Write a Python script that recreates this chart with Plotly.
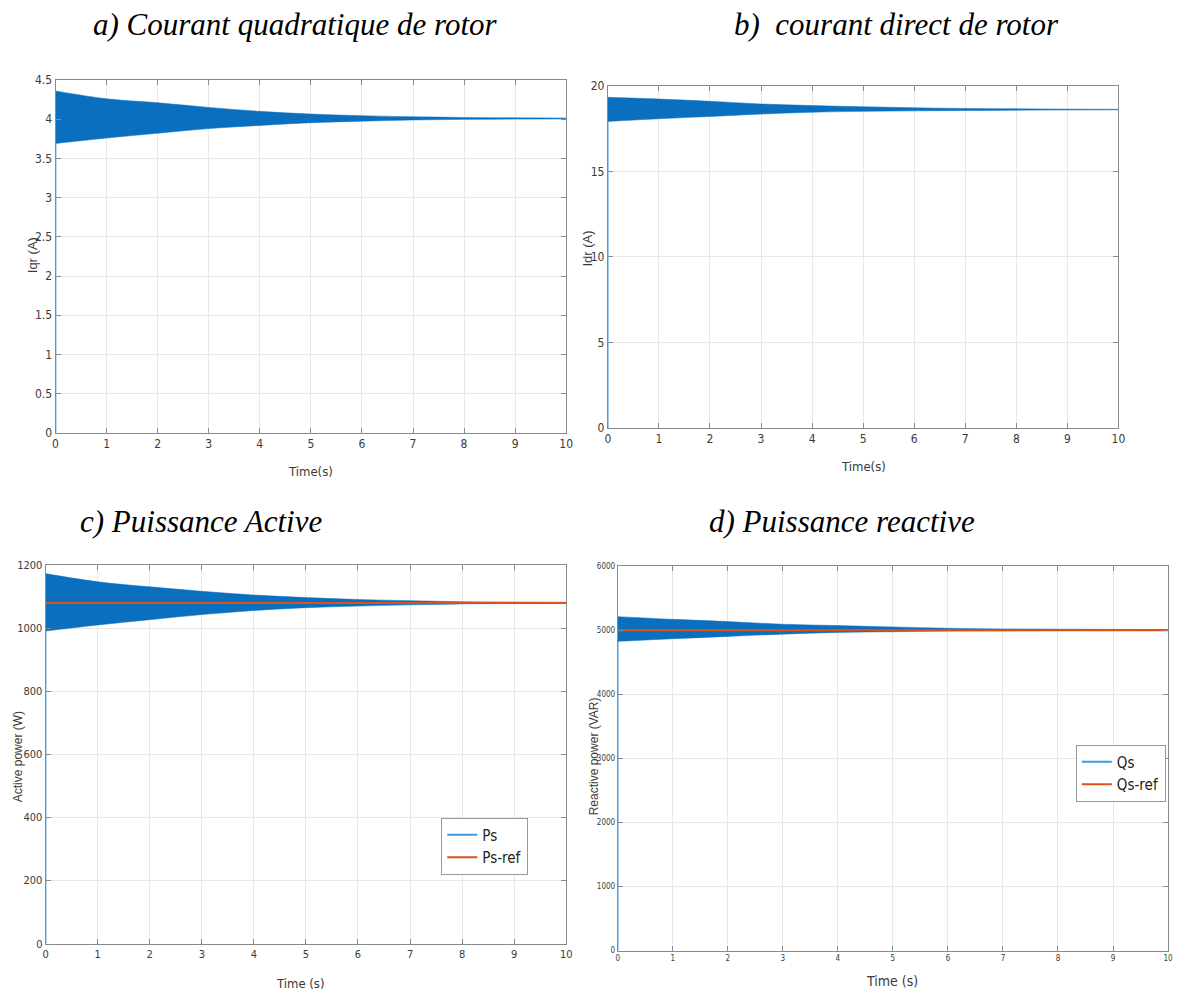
import plotly.graph_objects as go

W, H = 1181, 1001

# ---------------- data ----------------
time_s = [0, 1, 2, 3, 4, 5, 6, 7, 8, 9, 10]

iqr_upper = [4.36, 4.26, 4.21, 4.15, 4.10, 4.065, 4.045, 4.03, 4.022, 4.017, 4.015]
iqr_lower = [3.69, 3.76, 3.82, 3.88, 3.92, 3.955, 3.975, 3.99, 3.998, 4.003, 4.006]

idr_upper = [19.33, 19.23, 19.10, 18.94, 18.85, 18.78, 18.72, 18.68, 18.66, 18.64, 18.63]
idr_lower = [17.92, 18.08, 18.21, 18.35, 18.46, 18.51, 18.54, 18.56, 18.58, 18.59, 18.60]

ps_upper = [1173, 1147, 1131, 1117, 1105, 1097, 1091, 1087, 1084, 1083, 1082]
ps_lower = [991, 1010, 1027, 1043, 1056, 1065, 1070, 1074, 1077, 1078, 1079]
ps_ref_t = [0, 10]
ps_ref = [1080, 1080]

qs_upper = [5211, 5169, 5134, 5092, 5072, 5050, 5030, 5020, 5015, 5012, 5010]
qs_lower = [4826, 4866, 4903, 4938, 4965, 4975, 4985, 4990, 4995, 4998, 5000]
qs_ref_t = [0, 10]
qs_ref = [5000, 5000]

start_value = 0

x_ticks = list(range(0, 11))
iqr_ticks = [0, 0.5, 1, 1.5, 2, 2.5, 3, 3.5, 4, 4.5]
idr_ticks = [0, 5, 10, 15, 20]
ps_ticks = [0, 200, 400, 600, 800, 1000, 1200]
qs_ticks = [0, 1000, 2000, 3000, 4000, 5000, 6000]

titles = ["a) Courant quadratique de rotor", "b)  courant direct de rotor",
          "c) Puissance Active", "d) Puissance reactive"]
xlabels = ["Time(s)", "Time(s)", "Time (s)", "Time (s)"]
ylabels = ["Iqr (A)", "Idr (A)", "Active power (W)", "Reactive power (VAR)"]

# ---------------- style ----------------
BLUE = "#0a6fbe"
LEGBLUE = "#3a9ae0"
ORANGE = "#d95319"
GRID = "#e8e8e8"
AXC = "#8a8a8a"
TICKF = "DejaVu Sans Condensed, Liberation Sans, Arial, sans-serif"
TITLEF = "Liberation Serif, Times New Roman, serif"

def fx(p):
    return p / W

def fy(p):
    return 1 - p / H

# pixel boxes: left, right, top, bottom
boxes = [(53, 568, 74, 432), (610, 1125, 80, 427), (43, 568, 566, 950), (620, 1175, 567, 957)]
yranges = [[0, 4.5], [0, 20], [0, 1200], [0, 6000]]
yticks = [iqr_ticks, idr_ticks, ps_ticks, qs_ticks]
tickfs = [12, 12, 11, 8]

fig = go.Figure()

bands = [(iqr_upper, iqr_lower), (idr_upper, idr_lower), (ps_upper, ps_lower), (qs_upper, qs_lower)]
for i, (up, lo) in enumerate(bands):
    xa = "x" if i == 0 else f"x{i+1}"
    ya = "y" if i == 0 else f"y{i+1}"
    fig.add_trace(go.Scatter(x=[time_s[0], time_s[0]], y=[start_value, (up[0] + lo[0]) / 2],
                             mode="lines", line=dict(color="#8cc3ec", width=2),
                             xaxis=xa, yaxis=ya, showlegend=False, hoverinfo="skip"))
    fig.add_trace(go.Scatter(x=time_s, y=lo, mode="lines", line=dict(width=0.5, color=BLUE, shape="spline"),
                             xaxis=xa, yaxis=ya, showlegend=False))
    fig.add_trace(go.Scatter(x=time_s, y=up, mode="lines", line=dict(width=0.5, color=BLUE, shape="spline"),
                             fill="tonexty", fillcolor=BLUE,
                             xaxis=xa, yaxis=ya, showlegend=False))

fig.add_trace(go.Scatter(x=ps_ref_t, y=ps_ref, mode="lines", line=dict(color=ORANGE, width=2),
                         xaxis="x3", yaxis="y3", showlegend=False))
fig.add_trace(go.Scatter(x=qs_ref_t, y=qs_ref, mode="lines", line=dict(color=ORANGE, width=2),
                         xaxis="x4", yaxis="y4", showlegend=False))

for name, col, leg in [("Ps", LEGBLUE, "legend"), ("Ps-ref", ORANGE, "legend"),
                       ("Qs", LEGBLUE, "legend2"), ("Qs-ref", ORANGE, "legend2")]:
    xa, ya = ("x3", "y3") if leg == "legend" else ("x4", "y4")
    fig.add_trace(go.Scatter(x=[None], y=[None], mode="lines", name=name,
                             line=dict(color=col, width=2), xaxis=xa, yaxis=ya,
                             legend=leg, showlegend=True))

layout = dict(width=W, height=H, margin=dict(l=0, r=0, t=0, b=0),
              paper_bgcolor="white", plot_bgcolor="white", showlegend=True)

for i, (l, r, t, b) in enumerate(boxes):
    kx = "xaxis" if i == 0 else f"xaxis{i+1}"
    ky = "yaxis" if i == 0 else f"yaxis{i+1}"
    ya = "y" if i == 0 else f"y{i+1}"
    xa = "x" if i == 0 else f"x{i+1}"
    layout[kx] = dict(domain=[fx(l), fx(r)], range=[0, 10], anchor=ya, tickvals=x_ticks,
                      showgrid=True, gridcolor=GRID, gridwidth=1, zeroline=False,
                      showline=True, linecolor=AXC, linewidth=1, mirror="ticks",
                      ticks="inside", ticklen=5, tickcolor=AXC,
                      tickfont=dict(family=TICKF, size=tickfs[i], color="#3a3a3a"))
    layout[ky] = dict(domain=[fy(b), fy(t)], range=yranges[i], anchor=xa, tickvals=yticks[i],
                      showgrid=True, gridcolor=GRID, gridwidth=1, zeroline=False,
                      showline=True, linecolor=AXC, linewidth=1, mirror="ticks",
                      ticks="inside", ticklen=5, tickcolor=AXC,
                      tickfont=dict(family=TICKF, size=tickfs[i], color="#3a3a3a"))

leg_common = dict(xanchor="left", yanchor="top", traceorder="normal",
                  bgcolor="white", bordercolor="#999999", borderwidth=1,
                  font=dict(family=TICKF, size=15, color="#222222"),
                  itemwidth=30, tracegroupgap=0)
layout["legend"] = dict(x=fx(442), y=fy(822), **leg_common)
layout["legend2"] = dict(x=fx(1082), y=fy(748), **leg_common)

ann = []
title_pos = [(295, 18), (901, 18), (200, 522), (846, 522)]
for txt, (px, py) in zip(titles, title_pos):
    ann.append(dict(text=f"<i>{txt}</i>", x=fx(px), y=fy(py), xref="paper", yref="paper",
                    showarrow=False, xanchor="center", yanchor="middle",
                    font=dict(family=TITLEF, size=31, color="black")))
xl_pos = [(310, 471, 13), (868, 466, 13), (300, 990, 13), (897, 988, 14)]
for txt, (px, py, fs) in zip(xlabels, xl_pos):
    ann.append(dict(text=txt, x=fx(px), y=fy(py), xref="paper", yref="paper",
                    showarrow=False, xanchor="center", yanchor="middle",
                    font=dict(family=TICKF, size=fs, color="#3a3a3a")))
yl_pos = [(30, 252, 13), (590, 245, 13), (15, 760, 12), (596, 760, 12)]
for txt, (px, py, fs) in zip(ylabels, yl_pos):
    ann.append(dict(text=txt, x=fx(px), y=fy(py), xref="paper", yref="paper",
                    showarrow=False, xanchor="center", yanchor="middle", textangle=-90,
                    font=dict(family="Liberation Sans, Arial, sans-serif", size=fs, color="#3a3a3a")))
layout["annotations"] = ann

fig.update_layout(**layout)
fig.write_html("out.html")
